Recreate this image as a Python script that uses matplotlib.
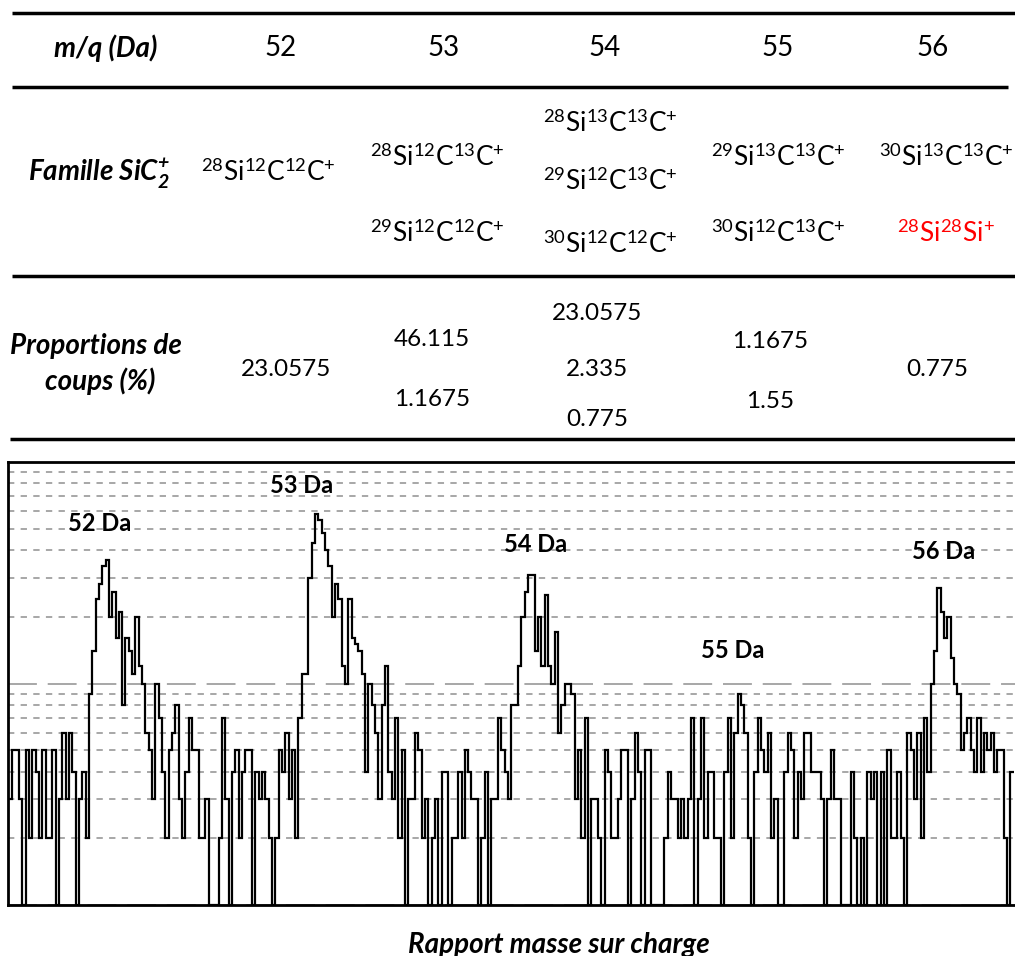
import matplotlib
matplotlib.use("Agg")
import matplotlib.pyplot as plt
import numpy as np
from matplotlib.lines import Line2D

plt.rcParams["font.family"] = ["Lato", "DejaVu Sans"]
plt.rcParams["mathtext.fontset"] = "custom"
plt.rcParams["mathtext.rm"] = "Lato"
plt.rcParams["mathtext.it"] = "Lato:italic"
plt.rcParams["mathtext.bf"] = "Lato:bold"
plt.rcParams["mathtext.bfit"] = "Lato:bold:italic"

# table content
mq_values = ["52", "53", "54", "55", "56"]
family_ions = [
    [r"$^{28}$Si$^{12}$C$^{12}$C$^{+}$"],
    [r"$^{28}$Si$^{12}$C$^{13}$C$^{+}$", r"$^{29}$Si$^{12}$C$^{12}$C$^{+}$"],
    [r"$^{28}$Si$^{13}$C$^{13}$C$^{+}$", r"$^{29}$Si$^{12}$C$^{13}$C$^{+}$", r"$^{30}$Si$^{12}$C$^{12}$C$^{+}$"],
    [r"$^{29}$Si$^{13}$C$^{13}$C$^{+}$", r"$^{30}$Si$^{12}$C$^{13}$C$^{+}$"],
    [r"$^{30}$Si$^{13}$C$^{13}$C$^{+}$", r"$^{28}$Si$^{28}$Si$^{+}$"],
]
proportions = [
    ["23.0575"],
    ["46.115", "1.1675"],
    ["23.0575", "2.335", "0.775"],
    ["1.1675", "1.55"],
    ["0.775"],
]

# histogram: counts per bin of mass-to-charge ratio
mz_start = 51.537
bin_width = 0.0159
counts_52 = [3, 5, 5, 3, 1, 5, 2, 5, 4, 2, 5, 2, 2, 5, 1, 3, 6, 3, 6, 4, 1, 3, 4, 2, 9, 14, 24, 28, 34, 36,
             20, 26, 16, 21, 8, 16, 14, 11, 20, 12, 10, 6, 5, 3, 10, 7, 4, 2, 5, 6, 8, 3, 2, 4, 7, 5, 5, 2, 2, 3, 1]
counts_53 = [1, 1, 2, 7, 3, 1, 4, 5, 2, 4, 5, 5, 1, 4, 3, 4, 3, 2, 1, 2, 5, 4, 6, 3, 5, 2, 7, 11, 11, 30,
             43, 58, 55, 48, 40, 34, 20, 28, 24, 12, 10, 24, 16, 15, 14, 11, 4, 10, 8, 6, 3, 8, 12, 4, 3, 7, 2, 5, 1, 3]
counts_54 = [3, 6, 5, 2, 3, 1, 2, 3, 1, 4, 4, 1, 2, 2, 4, 2, 5, 4, 3, 3, 1, 2, 4, 1, 3, 3, 7, 5, 4, 3,
             8, 8, 12, 20, 26, 31, 31, 14, 20, 12, 25, 12, 10, 17, 6, 8, 10, 10, 9, 3, 5, 2, 7, 1, 3, 3, 2, 1, 5]
counts_55 = [4, 2, 2, 3, 5, 5, 1, 3, 6, 4, 1, 5, 5, 1, 1, 1, 1, 2, 4, 3, 3, 2, 3, 2, 3, 7, 1, 3, 7, 2,
             4, 4, 2, 2, 1, 4, 7, 2, 6, 9, 8, 6, 2, 1, 4, 7, 5, 4, 6, 2, 3, 1, 1, 4, 6, 5, 2, 4, 3, 6]
counts_56 = [6, 4, 4, 4, 3, 1, 3, 5, 3, 3, 1, 1, 1, 4, 2, 1, 2, 1, 4, 3, 4, 1, 4, 1, 5, 2, 2, 4, 2, 1,
             6, 5, 3, 6, 2, 7, 4, 10, 14, 27, 21, 16, 20, 13, 10, 9, 5, 6, 7, 5, 4, 7, 4, 6, 5, 6, 4, 5, 5, 2, 1, 4]

peak_labels = ["52 Da", "53 Da", "54 Da", "55 Da", "56 Da"]
peak_label_mz = [51.972, 52.937, 54.051, 54.997, 56.001]
peak_label_counts = [53, 78, 42.6, 14.1, 39.6]

W, H = 1015, 956
fig = plt.figure(figsize=(W / 100, H / 100), dpi=100)

# ---- table drawn in pixel coordinates on an overlay axes ----
tab = fig.add_axes([0, 0, 1, 1])
tab.set_xlim(0, W)
tab.set_ylim(H, 0)
tab.axis("off")

for y, x0, x1 in [(13, 12, 1015), (87, 12, 1008), (275.5, 12, 1015), (439, 10, 1015)]:
    tab.add_line(Line2D([x0, x1], [y, y], color="black", lw=2.5, solid_capstyle="butt"))

col_x = [281, 444, 605, 778, 933]
hdr = dict(fontsize=20, fontweight="bold", fontstyle="italic", ha="center", va="center")
tab.text(106, 48, "m/q (Da)", **hdr)
for x, v in zip(col_x, mq_values):
    tab.text(x, 48, v, fontsize=20, ha="center", va="center")

tab.text(99, 174, r"Famille SiC$_{\mathbfit{2}}^{\mathbfit{+}}$", **hdr)
ion_x = [268, 437, 610, 778, 946]
ion_y = {1: [172], 2: [157, 233], 3: [123, 181, 244]}
for ci, (x, ions) in enumerate(zip(ion_x, family_ions)):
    for k, (txt, y) in enumerate(zip(ions, ion_y[len(ions)])):
        color = "red" if (ci == 4 and k == 1) else "black"
        tab.text(x, y, txt, fontsize=19, ha="center", va="center", color=color)

tab.text(96, 346, "Proportions de", **hdr)
tab.text(100, 381, "coups (%)", **hdr)
prop_x = [286, 432, 597, 770, 937]
prop_y = {1: [369], 2: [339, 400], 3: [314, 369, 419]}
for x, vals in zip(prop_x, proportions):
    ys = prop_y[len(vals)]
    if len(vals) == 2 and x > 700:
        ys = [341, 402]
    for v, y in zip(vals, ys):
        tab.text(x, y, v, fontsize=17.5, ha="center", va="center")

tab.text(559, 953, "Rapport masse sur charge", fontsize=20, fontweight="bold",
         fontstyle="italic", ha="center", va="baseline")

# ---- spectrum ----
counts = np.array(counts_52 + counts_53 + counts_54 + counts_55 + counts_56, dtype=float)
edges = mz_start + bin_width * np.arange(len(counts) + 1)

ax = fig.add_axes([8 / W, 1 - 905 / H, (1022 - 8) / W, (905 - 462) / H])
ax.set_yscale("log")
ax.set_ylim(1, 100)
ax.set_xlim(51.532, 56.378)
ax.grid(True, which="minor", axis="y", color="#a0a0a0", lw=1.3, linestyle=(0, (3.5, 3.5)))
ax.grid(True, which="major", axis="y", color="#a0a0a0", lw=1.3, linestyle=(0, (16, 6)))
ax.set_axisbelow(True)
ax.stairs(counts, edges, baseline=None, color="black", lw=1.6)

for lbl, mz, c in zip(peak_labels, peak_label_mz, peak_label_counts):
    ax.text(mz, c, lbl, fontsize=17, fontweight="bold", ha="center", va="center")

ax.set_xticks([])
ax.tick_params(axis="y", which="both", left=False, labelleft=False)
for s in ax.spines.values():
    s.set_linewidth(2)
    s.set_color("black")

fig.savefig("out.png", dpi=100)
